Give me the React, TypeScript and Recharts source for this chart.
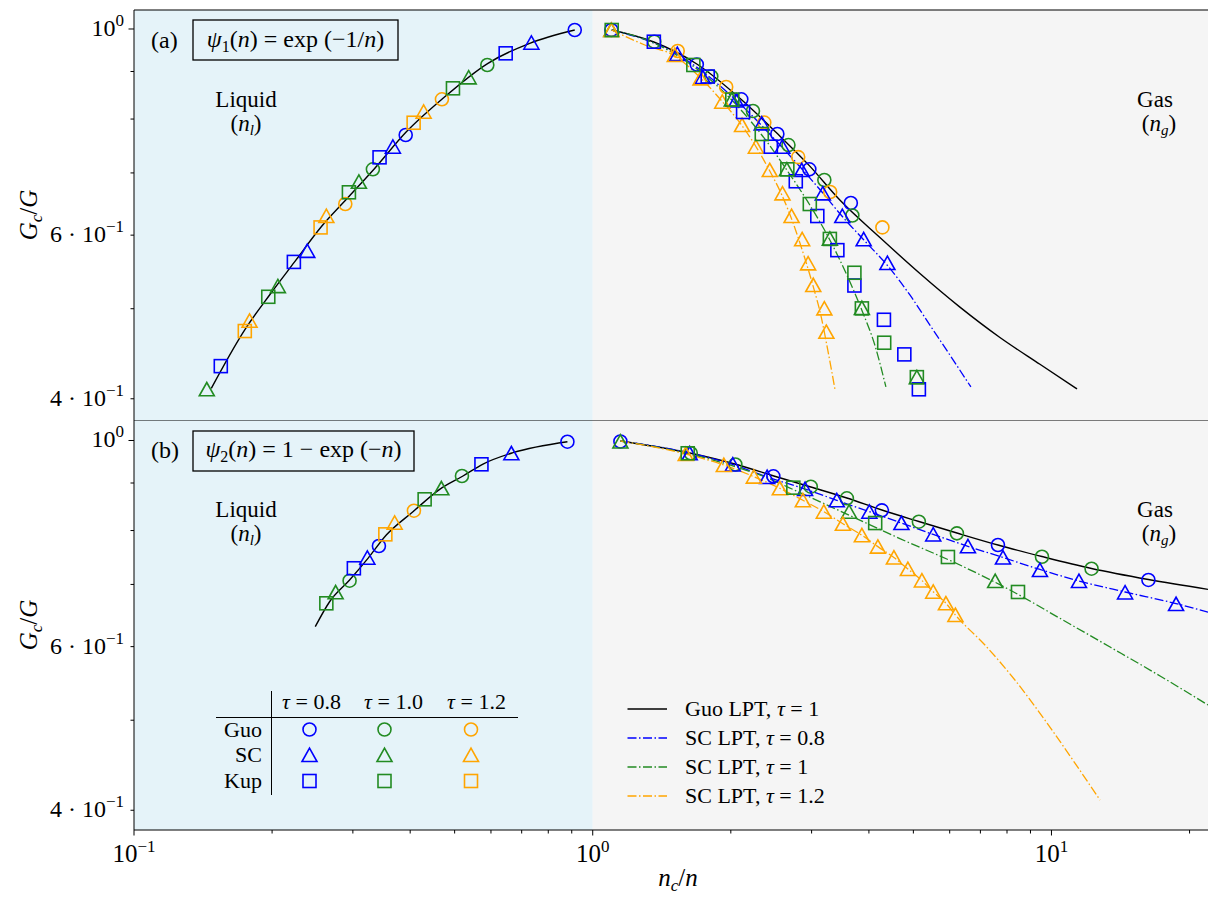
import React from "react";
import { ComposedChart, Line, Scatter, XAxis, YAxis, ReferenceArea, ReferenceLine } from "recharts";

type Pt = [number, number];

const BLUE = "#0000ff";
const GREEN = "#228b22";
const ORANGE = "#ffa500";
const FONT = "'Liberation Serif', 'DejaVu Serif', serif";

const X_DOMAIN: [number, number] = [0.1, 21.94];
const A_DOMAIN: [number, number] = [0.3795, 1.0482];
const B_DOMAIN: [number, number] = [0.3809, 1.0521];

const xTicks = [0.1, 0.2, 0.3, 0.4, 0.5, 0.6, 0.7, 0.8, 0.9, 1, 2, 3, 4, 5, 6, 7, 8, 9, 10, 20];
const xTickLabels: Record<string, string> = { "0.1": "−1", "1": "0", "10": "1" };
const yTicks = [0.4, 0.5, 0.6, 0.7, 0.8, 0.9, 1];
const yTickLabels: Record<string, [string, string]> = {
  "1": ["10", "0"],
  "0.6": ["6 · 10", "−1"],
  "0.4": ["4 · 10", "−1"],
};

const tauLabels = ["τ = 0.8", "τ = 1.0", "τ = 1.2"];
const modelLabels = ["Guo", "SC", "Kup"];
const lineLegendLabels = ["Guo LPT, τ = 1", "SC LPT, τ = 0.8", "SC LPT, τ = 1", "SC LPT, τ = 1.2"];

// ---- panel (a): psi1 = exp(-1/n) ----
const aGuoLiqLine: Pt[] = [[0.1474, 0.4105], [0.1742, 0.4742], [0.1975, 0.5173], [0.2239, 0.5615], [0.256, 0.6126], [0.2907, 0.6561], [0.3346, 0.7078], [0.3924, 0.7751], [0.4716, 0.8422], [0.591, 0.9185], [0.7289, 0.9652], [0.9137, 0.9975]];
const aGuoGasLine: Pt[] = [[1.1, 0.9975], [1.359, 0.9683], [1.686, 0.917], [2.102, 0.8407], [2.519, 0.7727], [2.973, 0.7119], [3.457, 0.6545], [4.227, 0.5965], [5.167, 0.5456], [6.316, 0.502], [7.721, 0.4656], [9.438, 0.4357], [11.37, 0.4099]];
const aSc08Line: Pt[] = [[1.1, 0.9975], [1.525, 0.9399], [2.051, 0.8386], [2.584, 0.7464], [3.174, 0.666], [3.493, 0.6291], [3.9, 0.5928], [4.4, 0.5558], [4.914, 0.5173], [5.433, 0.4801], [6.006, 0.4458], [6.673, 0.4119]];
const aSc10Line: Pt[] = [[1.1, 0.9975], [1.359, 0.9659], [1.652, 0.9125], [2.01, 0.8386], [2.336, 0.769], [2.649, 0.705], [2.973, 0.6465], [3.288, 0.5928], [3.581, 0.5435], [3.861, 0.4982], [4.121, 0.4568], [4.356, 0.4119]];
const aSc12Line: Pt[] = [[1.1, 0.9975], [1.299, 0.9611], [1.51, 0.9353], [1.711, 0.8877], [1.911, 0.8366], [2.102, 0.7903], [2.279, 0.7445], [2.432, 0.7033], [2.584, 0.6627], [2.744, 0.6152], [2.885, 0.5711], [3.018, 0.5302], [3.142, 0.4921], [3.254, 0.4512], [3.372, 0.4099]];

const aGuo08: Pt[] = [[0.9137, 0.9975], [0.3911, 0.769], [1.098, 0.9975], [1.686, 0.9158], [2.108, 0.8401], [2.526, 0.7709], [2.966, 0.7063], [3.653, 0.6497]];
const aGuo10: Pt[] = [[0.5891, 0.9147], [0.3317, 0.7063], [1.362, 0.969], [1.813, 0.8889], [2.235, 0.8161], [2.671, 0.7501], [3.198, 0.6878], [3.681, 0.6299]];
const aGuo12: Pt[] = [[0.4691, 0.8401], [0.2888, 0.6481], [1.532, 0.9469], [1.954, 0.8662], [2.366, 0.7931], [2.805, 0.728], [3.293, 0.6677], [4.28, 0.6116]];
const aSc08: Pt[] = [[0.7349, 0.9666], [0.3667, 0.747], [0.2386, 0.5771], [1.529, 0.9399], [1.738, 0.8877], [2.054, 0.8376], [2.336, 0.7915], [2.59, 0.747], [2.856, 0.705], [3.174, 0.6655], [3.5, 0.6291], [3.896, 0.5939], [4.389, 0.56]];
const aSc10: Pt[] = [[0.5365, 0.8871], [0.3092, 0.6849], [0.2059, 0.5288], [0.1441, 0.4095], [1.098, 0.9975], [2.01, 0.8396], [2.65, 0.7063], [3.288, 0.5949], [3.861, 0.5009], [5.088, 0.422]];
const aSc12: Pt[] = [[0.4279, 0.8147], [0.2626, 0.6291], [0.1786, 0.4853], [1.098, 0.9975], [1.51, 0.9376], [1.718, 0.8849], [1.916, 0.8351], [2.116, 0.7882], [2.268, 0.747], [2.432, 0.705], [2.592, 0.6655], [2.713, 0.6291], [2.861, 0.5939], [2.948, 0.5595], [3.025, 0.5302], [3.198, 0.5004], [3.231, 0.4722]];
const aKup08: Pt[] = [[0.646, 0.9415], [0.343, 0.7276], [0.2231, 0.5615], [0.1546, 0.4337], [1.359, 0.969], [1.781, 0.8889], [2.127, 0.8141], [2.445, 0.747], [2.771, 0.6857], [3.087, 0.6291], [3.414, 0.5781], [3.719, 0.5296], [4.313, 0.4865], [4.778, 0.4465], [5.14, 0.4095]];
const aKup10: Pt[] = [[0.4958, 0.8633], [0.2941, 0.6672], [0.1962, 0.515], [1.1, 0.9975], [1.657, 0.9147], [2.015, 0.8396], [2.336, 0.7709], [2.656, 0.7063], [2.973, 0.6481], [3.288, 0.5944], [3.719, 0.5466], [3.861, 0.5004], [4.319, 0.4596], [5.088, 0.422]];
const aKup12: Pt[] = [[0.407, 0.7927], [0.2551, 0.6116], [0.1744, 0.4731]];

// ---- panel (b): psi2 = 1 - exp(-n) ----
const bGuoLiqLine: Pt[] = [[0.2484, 0.6304], [0.2669, 0.6706], [0.2951, 0.7077], [0.3236, 0.7467], [0.3548, 0.7911], [0.4056, 0.8382], [0.4638, 0.886], [0.5214, 0.9158], [0.5766, 0.9434], [0.67, 0.9702], [0.8807, 0.997]];
const bGuoGasLine: Pt[] = [[1.149, 0.9988], [1.627, 0.9695], [2.04, 0.9434], [2.482, 0.9158], [2.988, 0.8911], [3.581, 0.8672], [4.269, 0.8417], [5.14, 0.8181], [6.221, 0.7951], [7.645, 0.7718], [9.535, 0.7501], [12.23, 0.7281], [16.27, 0.7085], [21.94, 0.6915]];
const bSc08Line: Pt[] = [[1.149, 0.9988], [1.627, 0.9695], [2.02, 0.9423], [2.4, 0.9136], [2.903, 0.8867], [3.404, 0.8623], [4.009, 0.8382], [4.709, 0.815], [5.524, 0.7923], [6.575, 0.7694], [7.84, 0.7483], [9.438, 0.7264], [11.48, 0.706], [14.47, 0.687], [18.69, 0.6675], [21.94, 0.6535]];
const bSc10Line: Pt[] = [[1.149, 0.9988], [1.611, 0.9683], [1.99, 0.9411], [2.313, 0.9181], [2.828, 0.879], [3.635, 0.8304], [4.672, 0.7843], [6.316, 0.7345], [8.12, 0.6904], [10.59, 0.6409], [13.42, 0.5994], [17.25, 0.5579], [21.94, 0.5192]];
const bSc12Line: Pt[] = [[1.149, 0.9988], [1.595, 0.9671], [1.931, 0.9411], [2.245, 0.9143], [2.558, 0.8883], [2.871, 0.8623], [3.19, 0.8382], [3.51, 0.8136], [3.861, 0.7907], [4.184, 0.7687], [4.535, 0.7483], [4.864, 0.7273], [5.219, 0.7069], [5.524, 0.6875], [5.888, 0.668], [6.175, 0.6489], [7.161, 0.6024], [8.324, 0.5524], [9.679, 0.5001], [11.25, 0.4496], [12.76, 0.4102]];

const bGuo08: Pt[] = [[0.8807, 0.997], [0.3419, 0.77], [1.149, 0.9975], [2.476, 0.9151], [4.269, 0.8411], [7.645, 0.7718], [16.27, 0.7078]];
const bGuo10: Pt[] = [[0.5187, 0.9158], [0.2951, 0.7065], [1.636, 0.9688], [2.046, 0.9423], [2.988, 0.8918], [3.581, 0.8665], [5.14, 0.8177], [6.221, 0.7945], [9.535, 0.7497], [12.23, 0.7278]];
const bGuo12: Pt[] = [[0.4076, 0.8403]];
const bSc08: Pt[] = [[0.6647, 0.9688], [0.3226, 0.7479], [1.627, 0.9688], [2.02, 0.9423], [2.4, 0.9136], [2.903, 0.8867], [3.404, 0.8623], [4.009, 0.8382], [4.709, 0.815], [5.524, 0.7923], [6.575, 0.7694], [7.84, 0.7483], [9.438, 0.7255], [11.48, 0.706], [14.47, 0.6862], [18.69, 0.6668]];
const bSc10: Pt[] = [[0.4677, 0.8883], [0.2751, 0.6865], [1.149, 0.9975], [3.621, 0.8382], [7.539, 0.706]];
const bSc12: Pt[] = [[0.37, 0.8157], [1.595, 0.9671], [1.931, 0.9411], [2.245, 0.9143], [2.558, 0.8883], [2.871, 0.8623], [3.19, 0.8382], [3.51, 0.8136], [3.861, 0.7907], [4.184, 0.7687], [4.535, 0.7483], [4.864, 0.7273], [5.219, 0.7069], [5.524, 0.6875], [5.888, 0.668], [6.175, 0.6489]];
const bKup08: Pt[] = [[0.572, 0.9427], [0.3015, 0.7286]];
const bKup10: Pt[] = [[0.4301, 0.8644], [0.2626, 0.668], [1.611, 0.9688], [2.737, 0.8897], [4.128, 0.815], [5.947, 0.7492], [8.453, 0.687]];
const bKup12: Pt[] = [[0.3531, 0.7925]];

const toObj = (a: Pt[]) => a.map(([x, y]) => ({ x, y }));

const DASHDOT = "9 2.5 1.5 2.5";

function markerShape(kind: string, color: string) {
  return (p: any) => {
    const { cx, cy } = p;
    if (cx == null || cy == null) return <g />;
    if (kind === "o") return <circle cx={cx} cy={cy} r={6.5} fill="none" stroke={color} strokeWidth={1.6} />;
    if (kind === "^")
      return (
        <polygon
          points={`${cx},${cy - 6.8} ${cx - 7.5},${cy + 6.5} ${cx + 7.5},${cy + 6.5}`}
          fill="none"
          stroke={color}
          strokeWidth={1.6}
        />
      );
    return <rect x={cx - 6.5} y={cy - 6.5} width={13} height={13} fill="none" stroke={color} strokeWidth={1.6} />;
  };
}

const XTick = (p: any) => {
  const { x, y, payload } = p;
  const v = payload.value;
  const lab = xTickLabels[String(v)];
  return (
    <g>
      <line x1={x} x2={x} y1={y} y2={y + (lab ? 5.5 : 3.5)} stroke="#000" strokeWidth={1} />
      {lab && (
        <text x={x} y={y + 32} textAnchor="middle" fontFamily={FONT} fontSize={25} fill="#000">
          10<tspan dy={-10} fontSize={17}>{lab}</tspan>
        </text>
      )}
    </g>
  );
};

const YTick = (p: any) => {
  const { x, y, payload } = p;
  const v = payload.value;
  const lab = yTickLabels[String(v)];
  return (
    <g>
      <line x1={x} x2={x - (v === 1 ? 5.5 : 3.5)} y1={y} y2={y} stroke="#000" strokeWidth={1} />
      {lab && (
        <text x={x - 10} y={y + 7} textAnchor="end" fontFamily={FONT} fontSize={24} fill="#000">
          {lab[0]}
          <tspan dy={-10} fontSize={17}>{lab[1]}</tspan>
        </text>
      )}
    </g>
  );
};

type LineSpec = { data: Pt[]; color: string; dash?: string; width: number };
type MarkSpec = { data: Pt[]; kind: string; color: string };

function Panel(props: {
  yDomain: [number, number];
  lines: LineSpec[];
  marks: MarkSpec[];
  bottomAxis: boolean;
  height: number;
  margin: { top: number; right: number; bottom: number; left: number };
}) {
  const { yDomain, lines, marks, bottomAxis, height, margin } = props;
  return (
    <ComposedChart width={1208} height={height} margin={margin}>
      <XAxis
        dataKey="x"
        type="number"
        scale="log"
        domain={X_DOMAIN}
        allowDataOverflow
        ticks={xTicks}
        interval={0}
        tick={bottomAxis ? <XTick /> : false}
        tickLine={false}
        tickSize={0}
        tickMargin={0}
        axisLine={{ stroke: "#000", strokeWidth: 1 }}
        height={bottomAxis ? 67 : 0}
      />
      <YAxis
        dataKey="y"
        type="number"
        scale="log"
        domain={yDomain}
        allowDataOverflow
        ticks={yTicks}
        interval={0}
        tick={<YTick />}
        tickLine={false}
        tickSize={0}
        tickMargin={0}
        axisLine={{ stroke: "#000", strokeWidth: 1 }}
        width={134}
      />
      <ReferenceArea x1={0.1} x2={1} fill="#e5f3f9" fillOpacity={1} stroke="none" ifOverflow="hidden" />
      <ReferenceArea x1={1} x2={X_DOMAIN[1]} fill="#f5f5f5" fillOpacity={1} stroke="none" ifOverflow="hidden" />
      <ReferenceLine y={yDomain[1]} stroke="#000" strokeWidth={1.2} ifOverflow="visible" />
      {lines.map((l, i) => (
        <Line
          key={"l" + i}
          data={toObj(l.data)}
          dataKey="y"
          type="monotone"
          stroke={l.color}
          strokeWidth={l.width}
          strokeDasharray={l.dash}
          dot={false}
          activeDot={false}
          isAnimationActive={false}
        />
      ))}
      {marks.map((m, i) => (
        <Scatter key={"m" + i} data={toObj(m.data)} shape={markerShape(m.kind, m.color)} isAnimationActive={false} />
      ))}
    </ComposedChart>
  );
}

const aLines: LineSpec[] = [
  { data: aGuoLiqLine, color: "#000", width: 1.4 },
  { data: aGuoGasLine, color: "#000", width: 1.4 },
  { data: aSc08Line, color: BLUE, dash: DASHDOT, width: 1.3 },
  { data: aSc10Line, color: GREEN, dash: DASHDOT, width: 1.3 },
  { data: aSc12Line, color: ORANGE, dash: DASHDOT, width: 1.3 },
];
const aMarks: MarkSpec[] = [
  { data: aGuo08, kind: "o", color: BLUE },
  { data: aGuo10, kind: "o", color: GREEN },
  { data: aGuo12, kind: "o", color: ORANGE },
  { data: aSc08, kind: "^", color: BLUE },
  { data: aSc10, kind: "^", color: GREEN },
  { data: aSc12, kind: "^", color: ORANGE },
  { data: aKup08, kind: "s", color: BLUE },
  { data: aKup10, kind: "s", color: GREEN },
  { data: aKup12, kind: "s", color: ORANGE },
];
const bLines: LineSpec[] = [
  { data: bGuoLiqLine, color: "#000", width: 1.4 },
  { data: bGuoGasLine, color: "#000", width: 1.4 },
  { data: bSc08Line, color: BLUE, dash: DASHDOT, width: 1.3 },
  { data: bSc10Line, color: GREEN, dash: DASHDOT, width: 1.3 },
  { data: bSc12Line, color: ORANGE, dash: DASHDOT, width: 1.3 },
];
const bMarks: MarkSpec[] = [
  { data: bGuo08, kind: "o", color: BLUE },
  { data: bGuo10, kind: "o", color: GREEN },
  { data: bGuo12, kind: "o", color: ORANGE },
  { data: bSc08, kind: "^", color: BLUE },
  { data: bSc10, kind: "^", color: GREEN },
  { data: bSc12, kind: "^", color: ORANGE },
  { data: bKup08, kind: "s", color: BLUE },
  { data: bKup10, kind: "s", color: GREEN },
  { data: bKup12, kind: "s", color: ORANGE },
];

const colColors = [BLUE, GREEN, ORANGE];
const rowKinds = ["o", "^", "s"];
const legendLineStyles = [
  { color: "#000", dash: undefined as string | undefined },
  { color: BLUE, dash: DASHDOT },
  { color: GREEN, dash: DASHDOT },
  { color: ORANGE, dash: DASHDOT },
];

function PanelText({ dy, tag, box }: { dy: number; tag: string; box: "a" | "b" }) {
  return (
    <g>
      <text x={151} y={48 + dy} fontSize={24}>({tag})</text>
      {box === "a" ? (
        <>
          <rect x={193} y={20 + dy} width={205} height={40} fill="none" stroke="#000" strokeWidth={1.3} />
          <text x={295.5} y={47 + dy} fontSize={24} textAnchor="middle">
            <tspan fontStyle="italic">ψ</tspan>
            <tspan fontSize={16} dy={5}>1</tspan>
            <tspan dy={-5}>(</tspan>
            <tspan fontStyle="italic">n</tspan>
            <tspan>) = exp (−1/</tspan>
            <tspan fontStyle="italic">n</tspan>
            <tspan>)</tspan>
          </text>
        </>
      ) : (
        <>
          <rect x={193} y={21 + dy} width={221} height={40} fill="none" stroke="#000" strokeWidth={1.3} />
          <text x={303.5} y={47 + dy} fontSize={24} textAnchor="middle">
            <tspan fontStyle="italic">ψ</tspan>
            <tspan fontSize={16} dy={5}>2</tspan>
            <tspan dy={-5}>(</tspan>
            <tspan fontStyle="italic">n</tspan>
            <tspan>) = 1 − exp (−</tspan>
            <tspan fontStyle="italic">n</tspan>
            <tspan>)</tspan>
          </text>
        </>
      )}
      <text x={246} y={107 + dy} fontSize={23} textAnchor="middle">Liquid</text>
      <text x={246} y={131 + dy} fontSize={23} textAnchor="middle">
        (<tspan fontStyle="italic">n</tspan>
        <tspan fontSize={15} dy={4} fontStyle="italic">l</tspan>
        <tspan dy={-4}>)</tspan>
      </text>
      <text x={1155} y={107 + dy} fontSize={23} textAnchor="middle">Gas</text>
      <text x={1159} y={131 + dy} fontSize={23} textAnchor="middle">
        (<tspan fontStyle="italic">n</tspan>
        <tspan fontSize={15} dy={4} fontStyle="italic">g</tspan>
        <tspan dy={-4}>)</tspan>
      </text>
    </g>
  );
}

function Overlay() {
  const colX = [309.5, 384.5, 471];
  const headX = [311.5, 393.5, 476.5];
  const rowY = [729.5, 755, 781];
  return (
    <svg
      width={1208}
      height={897}
      style={{ position: "absolute", left: 0, top: 0, pointerEvents: "none" }}
      fontFamily={FONT}
      fill="#000"
    >
      <PanelText dy={0} tag="a" box="a" />
      <PanelText dy={410} tag="b" box="b" />

      {/* y labels */}
      {[215, 625].map((cy) => (
        <text key={cy} x={37} y={cy} fontSize={25} textAnchor="middle" transform={`rotate(-90, 37, ${cy})`}>
          <tspan fontStyle="italic">G</tspan>
          <tspan fontSize={17} dy={5} fontStyle="italic">c</tspan>
          <tspan dy={-5}>/</tspan>
          <tspan fontStyle="italic">G</tspan>
        </text>
      ))}
      {/* x label */}
      <text x={678} y={886} fontSize={25} textAnchor="middle">
        <tspan fontStyle="italic">n</tspan>
        <tspan fontSize={17} dy={5} fontStyle="italic">c</tspan>
        <tspan dy={-5}>/</tspan>
        <tspan fontStyle="italic">n</tspan>
      </text>

      {/* marker table legend */}
      <line x1={271.5} x2={271.5} y1={691} y2={795} stroke="#000" strokeWidth={1} />
      <line x1={216} x2={518} y1={717.5} y2={717.5} stroke="#000" strokeWidth={1} />
      {tauLabels.map((t, i) => (
        <text key={t} x={headX[i]} y={709} fontSize={22} textAnchor="middle">
          <tspan fontStyle="italic">τ</tspan>
          {t.slice(1)}
        </text>
      ))}
      {modelLabels.map((m, r) => (
        <g key={m}>
          <text x={262} y={rowY[r] + 7} fontSize={22} textAnchor="end">{m}</text>
          {colColors.map((c, ci) => (
            <g key={ci}>{markerShape(rowKinds[r], c)({ cx: colX[ci], cy: rowY[r] })}</g>
          ))}
        </g>
      ))}

      {/* line legend */}
      {lineLegendLabels.map((lab, i) => {
        const y = [709, 738, 767, 796][i];
        const parts = lab.split("τ");
        return (
          <g key={lab}>
            <line
              x1={627.5}
              x2={667}
              y1={y}
              y2={y}
              stroke={legendLineStyles[i].color}
              strokeWidth={1.4}
              strokeDasharray={legendLineStyles[i].dash}
            />
            <text x={685} y={y + 7} fontSize={22}>
              {parts[0]}
              <tspan fontStyle="italic">τ</tspan>
              {parts[1]}
            </text>
          </g>
        );
      })}
    </svg>
  );
}

export default function App() {
  return (
    <div style={{ position: "absolute", left: 0, top: 0, width: 1208, height: 897, background: "#fff", overflow: "hidden" }}>
      <div style={{ position: "absolute", left: 0, top: 0 }}>
        <Panel
          yDomain={A_DOMAIN}
          lines={aLines}
          marks={aMarks}
          bottomAxis={false}
          height={421}
          margin={{ top: 10, right: 0, bottom: 1, left: 0 }}
        />
      </div>
      <div style={{ position: "absolute", left: 0, top: 420 }}>
        <Panel
          yDomain={B_DOMAIN}
          lines={bLines}
          marks={bMarks}
          bottomAxis={true}
          height={477}
          margin={{ top: 0, right: 0, bottom: 0, left: 0 }}
        />
      </div>
      <Overlay />
    </div>
  );
}
